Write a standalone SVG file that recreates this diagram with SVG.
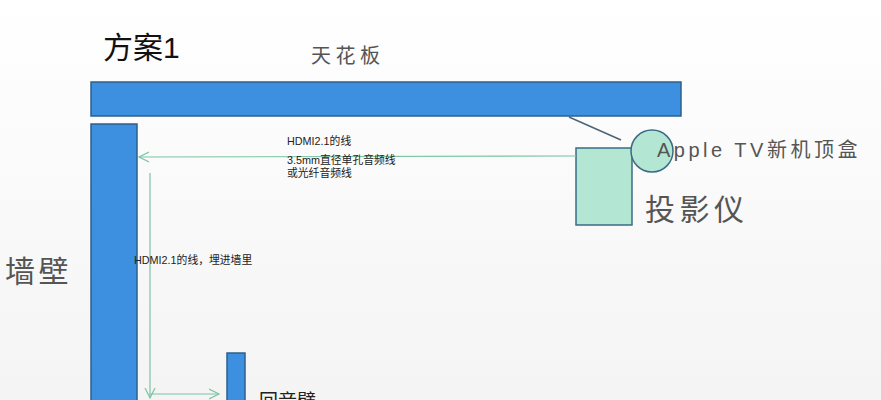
<svg xmlns="http://www.w3.org/2000/svg" width="881" height="400" viewBox="0 0 881 400">
<style>
.blue{fill:#3d8fe0;stroke:#2d5f8c;stroke-width:1.5}
.mint{fill:#b3e6d3;stroke:#3a6c86;stroke-width:1.5}
.conn{fill:none;stroke:#7cc4a4;stroke-width:1.2}
.t{font-family:"Liberation Sans","Noto Sans CJK SC",sans-serif}
.small{font-size:10.8px;fill:#222}
.gray{fill:#555}
</style>
<defs>
<linearGradient id="bg" x1="0" y1="0" x2="0" y2="1">
<stop offset="0" stop-color="#ffffff"/>
<stop offset="1" stop-color="#f4f4f4"/>
</linearGradient>
<marker id="open" markerWidth="12" markerHeight="12" refX="10" refY="6" orient="auto" markerUnits="userSpaceOnUse">
<path d="M0,1 L10,6 L0,11" fill="none" stroke="#7cc4a4" stroke-width="1.2"/>
</marker>
</defs>
<rect width="881" height="400" fill="url(#bg)"/>
<text class="t" x="103" y="58" font-size="30" fill="#111">方案1</text>
<g id="ceiling">
<rect class="blue" x="91" y="82" width="590" height="34"/>
<text class="t gray" x="311" y="63" font-size="20" letter-spacing="4.5">天花板</text>
</g>
<g id="wall">
<rect class="blue" x="91" y="124" width="46" height="290"/>
<text class="t gray" x="5" y="282" font-size="30" letter-spacing="3.5">墙壁</text>
</g>
<g id="projector">
<rect class="mint" x="576" y="148" width="56" height="77"/>
<text class="t gray" x="645" y="220" font-size="30" letter-spacing="4.5">投影仪</text>
</g>
<g id="appletv">
<circle class="mint" cx="652" cy="151" r="21"/>
<text class="t gray" x="657" y="157" font-size="20" letter-spacing="3.5">Apple TV新机顶盒</text>
</g>
<g id="soundbar">
<rect class="blue" x="227" y="353" width="18" height="60"/>
<text class="t" x="259" y="408" font-size="19" fill="#222">回音壁</text>
</g>
<g id="connectors">
<line x1="569" y1="117" x2="621" y2="140" stroke="#4a6478" stroke-width="1.5"/>
<line class="conn" x1="576" y1="156" x2="139" y2="157" marker-end="url(#open)"/>
<line class="conn" x1="150" y1="173" x2="150" y2="398" marker-end="url(#open)"/>
<line class="conn" x1="150" y1="394" x2="219" y2="394" marker-end="url(#open)"/>
<text class="t small" x="287" y="145">HDMI2.1的线</text>
<text class="t small" x="287" y="164">3.5mm直径单孔音频线</text>
<text class="t small" x="287" y="177">或光纤音频线</text>
<text class="t small" x="134" y="264">HDMI2.1的线，埋进墙里</text>
</g>
</svg>
